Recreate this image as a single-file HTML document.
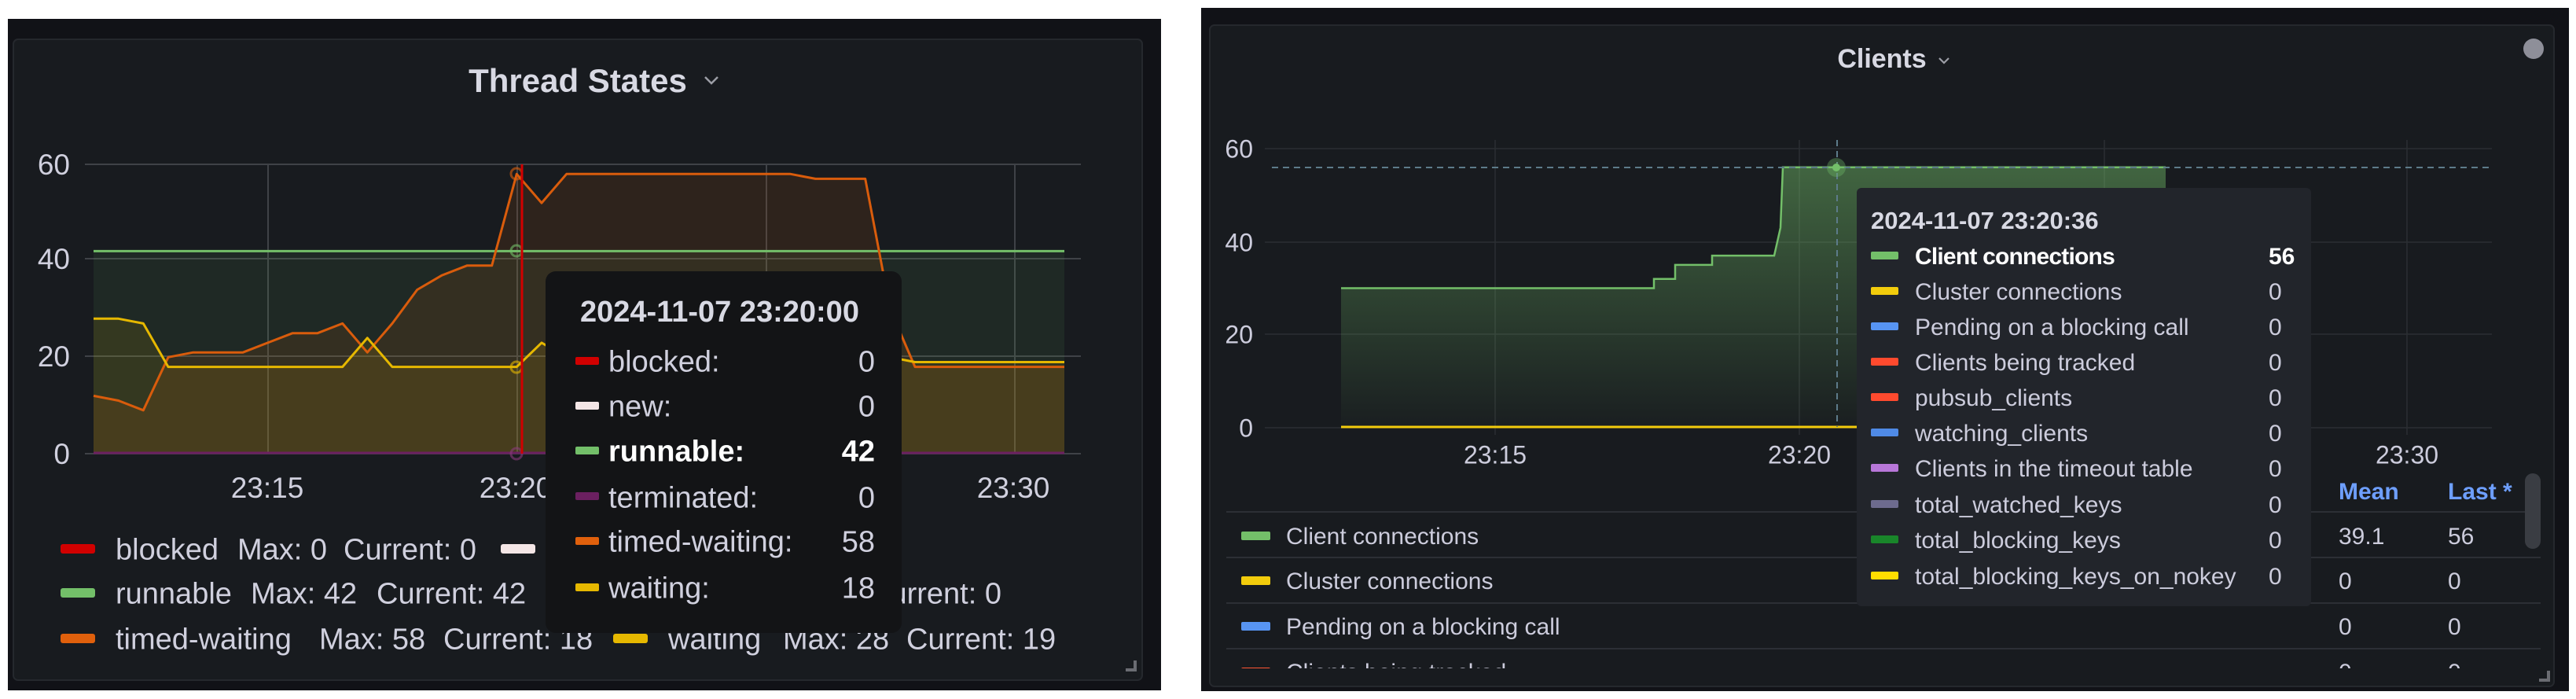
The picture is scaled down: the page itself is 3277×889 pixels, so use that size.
<!DOCTYPE html>
<html><head><meta charset="utf-8"><style>
html,body{margin:0;padding:0;background:#fff;}
svg{display:block;font-family:"Liberation Sans",Arial,sans-serif;}
</style></head><body>
<svg width="3277" height="889" viewBox="0 0 3277 889" xmlns="http://www.w3.org/2000/svg">
<defs>
<linearGradient id="gg" gradientUnits="userSpaceOnUse" x1="0" y1="212" x2="0" y2="544">
<stop offset="0" stop-color="#73bf69" stop-opacity="0.45"/>
<stop offset="1" stop-color="#73bf69" stop-opacity="0.02"/>
</linearGradient>
<clipPath id="tbl"><rect x="1540" y="600" width="1709" height="250"/></clipPath>
</defs>
<rect width="3277" height="889" fill="#fff"/>

<!-- LEFT PANEL -->
<rect x="10" y="24" width="1467" height="854" fill="#111217"/>
<rect x="17" y="50" width="1436" height="815" rx="6" fill="#181b1f" stroke="#25282d" stroke-width="2"/>
<text x="735" y="117" text-anchor="middle" font-size="42" font-weight="bold" fill="#d8d9e3">Thread States</text>
<polyline points="897,98 905,106 913,98" fill="none" stroke="#9c9ea6" stroke-width="2.5"/>

<g stroke="#3f4247" stroke-width="2">
<line x1="108" y1="209" x2="1375" y2="209"/>
<line x1="108" y1="329" x2="1375" y2="329"/>
<line x1="108" y1="453" x2="1375" y2="453"/>
<line x1="108" y1="577" x2="1375" y2="577"/>
<line x1="341" y1="209" x2="341" y2="577"/>
<line x1="658" y1="209" x2="658" y2="577"/>
<line x1="975" y1="209" x2="975" y2="577"/>
<line x1="1291" y1="209" x2="1291" y2="577"/>
</g>
<g font-size="37" fill="#d0d0de" text-anchor="end">
<text x="89" y="222">60</text><text x="89" y="342">40</text><text x="89" y="466">20</text><text x="89" y="590">0</text>
</g>
<g font-size="37" fill="#d0d0de" text-anchor="middle">
<text x="340" y="633">23:15</text><text x="656" y="633">23:20</text><text x="975" y="633">23:25</text><text x="1289" y="633">23:30</text>
</g>

<!-- fills -->
<polygon points="119,319.4 1354,319.4 1354,577 119,577" fill="#73bf69" fill-opacity="0.09"/>
<polygon points="119,503.4 150.7,509.5 182.3,521.8 214,454.3 245.7,448.2 309,448.2 340.7,435.9 372.3,423.7 404,423.7 435.7,411.4 467.3,448.2 499,411.4 530.7,368.5 562.3,350.1 594,337.8 625.7,337.8 657.3,221.3 689,258.1 720.7,221.3 1005.7,221.3 1037.3,227.4 1100.7,227.4 1132.3,393 1164,466.6 1354,466.6 1354,577 119,577" fill="#e0600c" fill-opacity="0.11"/>
<polygon points="119,405.3 150.7,405.3 182.3,411.4 214,466.6 435.7,466.6 467.3,429.8 499,466.6 657.3,466.6 689,435.9 720.7,454.3 1132.3,454.3 1164,460.5 1354,460.5 1354,577 119,577" fill="#e6b800" fill-opacity="0.11"/>
<!-- lines -->
<line x1="119" y1="319.4" x2="1354" y2="319.4" stroke="#73bf69" stroke-width="3"/>
<line x1="119" y1="576" x2="1354" y2="576" stroke="#6b2060" stroke-width="3"/>
<polyline points="119,503.4 150.7,509.5 182.3,521.8 214,454.3 245.7,448.2 309,448.2 340.7,435.9 372.3,423.7 404,423.7 435.7,411.4 467.3,448.2 499,411.4 530.7,368.5 562.3,350.1 594,337.8 625.7,337.8 657.3,221.3 689,258.1 720.7,221.3 1005.7,221.3 1037.3,227.4 1100.7,227.4 1132.3,393 1164,466.6 1354,466.6" fill="none" stroke="#d95c0c" stroke-width="3" stroke-linejoin="round"/>
<polyline points="119,405.3 150.7,405.3 182.3,411.4 214,466.6 435.7,466.6 467.3,429.8 499,466.6 657.3,466.6 689,435.9 720.7,454.3 1132.3,454.3 1164,460.5 1354,460.5" fill="none" stroke="#e6b800" stroke-width="3" stroke-linejoin="round"/>
<!-- hover -->
<g fill="none" stroke-width="3" stroke-opacity="0.6">
<circle cx="657" cy="221" r="7" stroke="#e0600c"/>
<circle cx="657" cy="319" r="7" stroke="#73bf69"/>
<circle cx="657" cy="467" r="7" stroke="#e6b800"/>
<circle cx="657" cy="577" r="7" stroke="#8a3a7c"/>
</g>
<line x1="664" y1="209" x2="664" y2="577" stroke="#d10000" stroke-width="3"/>

<!-- legend left -->
<g font-size="38" fill="#d0d0de">
<rect x="77" y="692" width="44" height="12" rx="3" fill="#d10000"/>
<text x="147" y="711.5">blocked</text><text x="302" y="711.5">Max: 0</text><text x="437" y="711.5">Current: 0</text>
<rect x="637" y="692" width="44" height="12" rx="3" fill="#f4e6e6"/>
<text x="707" y="711.5">new</text>
<rect x="77" y="748" width="44" height="12" rx="3" fill="#73bf69"/>
<text x="147" y="767.5">runnable</text><text x="319" y="767.5">Max: 42</text><text x="479" y="767.5">Current: 42</text>
<rect x="700" y="748" width="44" height="12" rx="3" fill="#6b2060"/>
<text x="1274" y="767.5" text-anchor="end">terminated  Max: 0  Current: 0</text>
<rect x="77" y="806" width="44" height="12" rx="3" fill="#e0600c"/>
<text x="147" y="825.5">timed-waiting</text><text x="406" y="825.5">Max: 58</text><text x="564" y="825.5">Current: 18</text>
<rect x="780" y="806" width="44" height="12" rx="3" fill="#e6b800"/>
<text x="850" y="825.5">waiting</text><text x="996" y="825.5">Max: 28</text><text x="1153" y="825.5">Current: 19</text>
</g>
<path d="M1444 840 V852 H1432" fill="none" stroke="#6a6c72" stroke-width="4"/>

<!-- tooltip left -->
<rect x="694" y="345" width="453" height="460" rx="13" fill="#131416"/>
<text x="738" y="409" font-size="38" font-weight="bold" fill="#d8d9e3">2024-11-07 23:20:00</text>
<g font-size="38" fill="#d0d0de">
<rect x="732" y="454" width="30" height="10" rx="2" fill="#d10000"/>
<text x="774" y="472.7">blocked:</text><text x="1113" y="472.7" text-anchor="end">0</text>
<rect x="732" y="511" width="30" height="10" rx="2" fill="#f4e6e6"/>
<text x="774" y="529.7">new:</text><text x="1113" y="529.7" text-anchor="end">0</text>
<rect x="732" y="568" width="30" height="10" rx="2" fill="#73bf69"/>
<text x="774" y="586.7" font-weight="bold" fill="#ffffff">runnable:</text><text x="1113" y="586.7" text-anchor="end" font-weight="bold" fill="#ffffff">42</text>
<rect x="732" y="626" width="30" height="10" rx="2" fill="#6b2060"/>
<text x="774" y="645.7">terminated:</text><text x="1113" y="645.7" text-anchor="end">0</text>
<rect x="732" y="683" width="30" height="10" rx="2" fill="#e0600c"/>
<text x="774" y="701.7">timed-waiting:</text><text x="1113" y="701.7" text-anchor="end">58</text>
<rect x="732" y="742" width="30" height="10" rx="2" fill="#e6b800"/>
<text x="774" y="760.7">waiting:</text><text x="1113" y="760.7" text-anchor="end">18</text>
</g>

<!-- RIGHT PANEL -->
<rect x="1528" y="10" width="1740" height="869" fill="#111217"/>
<rect x="1539" y="32" width="1710" height="841" rx="6" fill="#181b1f" stroke="#25282d" stroke-width="2"/>
<text x="2394" y="86" text-anchor="middle" font-size="34" font-weight="bold" fill="#d8d9e3">Clients</text>
<polyline points="2467,74 2473,80 2479,74" fill="none" stroke="#9c9ea6" stroke-width="2.2"/>
<circle cx="3223" cy="62" r="13" fill="#8e8f99"/>

<g stroke="#2b2e33" stroke-width="1.5">
<line x1="1609" y1="189" x2="3170" y2="189"/>
<line x1="1609" y1="308" x2="3170" y2="308"/>
<line x1="1609" y1="425" x2="3170" y2="425"/>
<line x1="1609" y1="544" x2="3170" y2="544"/>
<line x1="1902" y1="178" x2="1902" y2="553"/>
<line x1="2289" y1="178" x2="2289" y2="553"/>
<line x1="2677" y1="178" x2="2677" y2="553"/>
<line x1="3062" y1="178" x2="3062" y2="553"/>
</g>
<g font-size="32" fill="#ccccdc" text-anchor="end">
<text x="1594" y="200.5">60</text><text x="1594" y="319.5">40</text><text x="1594" y="436.5">20</text><text x="1594" y="555.5">0</text>
</g>
<g font-size="32" fill="#ccccdc" text-anchor="middle">
<text x="1902" y="589.5">23:15</text><text x="2289" y="589.5">23:20</text><text x="2677" y="589.5">23:25</text><text x="3062" y="589.5">23:30</text>
</g>
<polygon points="1706,366.5 2104,366.5 2104,354.7 2131,354.7 2131,336.9 2178,336.9 2178,325.1 2257,325.1 2265,289.6 2268,212.7 2755,212.7 2755,544 1706,544" fill="url(#gg)"/>
<polyline points="1706,366.5 2104,366.5 2104,354.7 2131,354.7 2131,336.9 2178,336.9 2178,325.1 2257,325.1 2265,289.6 2268,212.7 2755,212.7" fill="none" stroke="#73bf69" stroke-width="2.5"/>
<line x1="1706" y1="543" x2="2755" y2="543" stroke="#f2cc0c" stroke-width="3"/>
<line x1="1618" y1="213" x2="3167" y2="213" stroke="#5d7b8a" stroke-width="2" stroke-dasharray="8 6"/>
<line x1="2337" y1="178" x2="2337" y2="543" stroke="#5d7b8a" stroke-width="2" stroke-dasharray="8 6"/>
<circle cx="2336" cy="213" r="12" fill="#73bf69" fill-opacity="0.35"/>
<circle cx="2336" cy="213" r="5" fill="#73bf69"/>

<!-- legend table -->
<g font-size="30" font-weight="bold" fill="#6e9fff">
<text x="2975" y="635">Mean</text><text x="3114" y="635">Last *</text>
</g>
<g stroke="#2c2f35" stroke-width="2">
<line x1="1560" y1="651" x2="3232" y2="651"/>
<line x1="1560" y1="709" x2="3232" y2="709"/>
<line x1="1560" y1="767" x2="3232" y2="767"/>
<line x1="1560" y1="825" x2="3232" y2="825"/>
</g>
<g clip-path="url(#tbl)" font-size="30" fill="#ccccdc">
<rect x="1579" y="676" width="37" height="11" rx="2" fill="#73bf69"/>
<text x="1636" y="692">Client connections</text><text x="2975" y="692">39.1</text><text x="3114" y="692">56</text>
<rect x="1579" y="733" width="37" height="11" rx="2" fill="#f2cc0c"/>
<text x="1636" y="749">Cluster connections</text><text x="2975" y="749">0</text><text x="3114" y="749">0</text>
<rect x="1579" y="791" width="37" height="11" rx="2" fill="#5794f2"/>
<text x="1636" y="807">Pending on a blocking call</text><text x="2975" y="807">0</text><text x="3114" y="807">0</text>
<rect x="1579" y="849" width="37" height="11" rx="2" fill="#ff5533"/>
<text x="1636" y="865">Clients being tracked</text><text x="2975" y="865">0</text><text x="3114" y="865">0</text>
</g>
<rect x="3212" y="602" width="20" height="96" rx="10" fill="#3a3d43"/>
<path d="M3242 853 V865 H3230" fill="none" stroke="#6a6c72" stroke-width="4"/>

<!-- tooltip right -->
<rect x="2362" y="239" width="578" height="532" rx="6" fill="#22252b"/>
<text x="2380" y="291" font-size="31" font-weight="bold" fill="#d8d9e3">2024-11-07 23:20:36</text>
<g font-size="30" fill="#ccccdc">
<rect x="2380" y="320" width="35" height="10" rx="2" fill="#73bf69"/>
<text x="2436" y="336" font-weight="bold" fill="#ffffff" letter-spacing="-0.8">Client connections</text><text x="2886" y="336" font-weight="bold" fill="#ffffff">56</text>
<rect x="2380" y="365" width="35" height="10" rx="2" fill="#f2cc0c"/>
<text x="2436" y="381">Cluster connections</text><text x="2886" y="381">0</text>
<rect x="2380" y="410" width="35" height="10" rx="2" fill="#5794f2"/>
<text x="2436" y="426">Pending on a blocking call</text><text x="2886" y="426">0</text>
<rect x="2380" y="455" width="35" height="10" rx="2" fill="#ff4a2e"/>
<text x="2436" y="471">Clients being tracked</text><text x="2886" y="471">0</text>
<rect x="2380" y="500" width="35" height="10" rx="2" fill="#ff4a2e"/>
<text x="2436" y="516">pubsub_clients</text><text x="2886" y="516">0</text>
<rect x="2380" y="545" width="35" height="10" rx="2" fill="#4f8ae6"/>
<text x="2436" y="561">watching_clients</text><text x="2886" y="561">0</text>
<rect x="2380" y="590" width="35" height="10" rx="2" fill="#b877d9"/>
<text x="2436" y="606">Clients in the timeout table</text><text x="2886" y="606">0</text>
<rect x="2380" y="636" width="35" height="10" rx="2" fill="#6d6b8e"/>
<text x="2436" y="652">total_watched_keys</text><text x="2886" y="652">0</text>
<rect x="2380" y="681" width="35" height="10" rx="2" fill="#19862a"/>
<text x="2436" y="697">total_blocking_keys</text><text x="2886" y="697">0</text>
<rect x="2380" y="727" width="35" height="10" rx="2" fill="#ffdd00"/>
<text x="2436" y="743">total_blocking_keys_on_nokey</text><text x="2886" y="743">0</text>
</g>
</svg>
</body></html>
